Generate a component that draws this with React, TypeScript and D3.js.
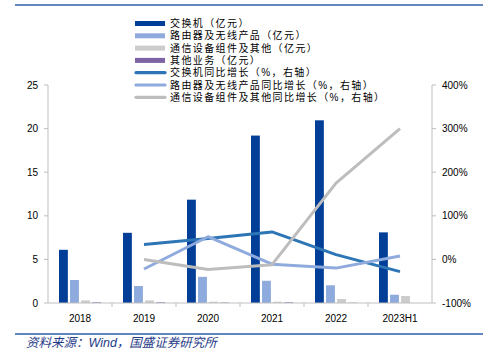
import React from "react";
import * as d3 from "d3";

const categories = ["2018", "2019", "2020", "2021", "2022", "2023H1"];
const switchRev = [6.1, 8.05, 11.85, 19.2, 20.95, 8.1];
const routerRev = [2.64, 1.95, 3.0, 2.55, 2.03, 0.95];
const commRev = [0.3, 0.3, 0.15, 0.15, 0.46, 0.8];
const otherRev = [0.08, 0.08, 0.05, 0.08, 0.03, 0];
const switchYoY = [null, 34, 48, 63, 11, -28];
const routerYoY = [null, -22, 52, -11, -20, 8];
const commYoY = [null, 0, -23, -12, 175, 300];
const leftTicks = [0, 5, 10, 15, 20, 25];
const rightTicks = [-100, 0, 100, 200, 300, 400];

const barNames = ["交换机（亿元）", "路由器及无线产品（亿元）", "通信设备组件及其他（亿元）", "其他业务（亿元）"];
const lineNames = ["交换机同比增长（%，右轴）", "路由器及无线产品同比增长（%，右轴）", "通信设备组件及其他同比增长（%，右轴）"];

const barColors = ["#003E97", "#8FAADC", "#CCCCCC", "#7E62A6"];
const lineColors = ["#2E75B6", "#8FAADC", "#BDBDBD"];

export default function App() {
  const W = 489, H = 357;
  const x0 = 48, x1 = 432, yTop = 85, yBot = 303;
  const x = d3.scaleBand().domain(categories).range([x0, x1]);
  const inner = d3.scaleBand().domain(["0", "1", "2", "3"]).range([11, 53]).paddingInner(0.2);
  const yL = d3.scaleLinear().domain([0, 25]).range([yBot, yTop]);
  const yR = d3.scaleLinear().domain([-100, 400]).range([yBot, yTop]);
  const barSeries = [switchRev, routerRev, commRev, otherRev];
  const lineSeries = [switchYoY, routerYoY, commYoY];
  const line = d3
    .line<[string, number | null]>()
    .defined((d) => d[1] !== null)
    .x((d) => (x(d[0]) as number) + x.bandwidth() / 2)
    .y((d) => yR(d[1] as number));
  const axisColor = "#BFBFBF";
  const font = "'Liberation Sans', 'Noto Sans CJK SC', sans-serif";
  const legendX = 135, legendY = 23.5, legendStep = 12.3;

  return (
    <svg width={W} height={H} style={{ position: "absolute", left: 0, top: 0 }} fontFamily={font}>
      <rect width={W} height={H} fill="#fff" />
      <line x1={15} x2={483} y1={5} y2={5} stroke="#2E5FA8" strokeWidth={1.5} />
      {/* legend */}
      {barNames.map((n, i) => (
        <g key={n}>
          <rect x={legendX} y={legendY + i * legendStep - 2.5} width={30} height={5} fill={barColors[i]} />
          <text x={170} y={legendY + i * legendStep} dy="0.35em" fontSize={10} letterSpacing={1.4} fill="#000">{n}</text>
        </g>
      ))}
      {lineNames.map((n, j) => {
        const i = j + 4;
        return (
          <g key={n}>
            <line x1={legendX + 1} x2={legendX + 30} y1={legendY + i * legendStep} y2={legendY + i * legendStep} stroke={lineColors[j]} strokeWidth={3.2} strokeLinecap="round" />
            <text x={170} y={legendY + i * legendStep} dy="0.35em" fontSize={10} letterSpacing={1.4} fill="#000">{n}</text>
          </g>
        );
      })}
      {/* bars */}
      {barSeries.map((s, si) =>
        s.map((v, ci) => (
          <rect
            key={si + "-" + ci}
            x={(x(categories[ci]) as number) + (inner(String(si)) as number)}
            y={yL(v)}
            width={inner.bandwidth()}
            height={yBot - yL(v)}
            fill={barColors[si]}
          />
        ))
      )}
      {/* axes */}
      <line x1={x0} x2={x0} y1={yTop} y2={yBot} stroke={axisColor} />
      <line x1={x1} x2={x1} y1={yTop} y2={yBot} stroke={axisColor} />
      <line x1={x0} x2={x1} y1={yBot} y2={yBot} stroke={axisColor} />
      {leftTicks.map((t) => (
        <g key={"l" + t}>
          <line x1={x0 - 4} x2={x0} y1={yL(t)} y2={yL(t)} stroke={axisColor} />
          <text x={38} y={yL(t)} dy="0.35em" textAnchor="end" fontSize={10} fill="#000">{t}</text>
        </g>
      ))}
      {rightTicks.map((t) => (
        <g key={"r" + t}>
          <line x1={x1} x2={x1 + 4} y1={yR(t)} y2={yR(t)} stroke={axisColor} />
          <text x={442} y={yR(t)} dy="0.35em" textAnchor="start" fontSize={10} fill="#000">{t + "%"}</text>
        </g>
      ))}
      {categories.map((c, i) => (
        <g key={c}>
          {i > 0 && <line x1={x(c) as number} x2={x(c) as number} y1={yBot} y2={yBot + 4} stroke={axisColor} />}
          <text x={(x(c) as number) + x.bandwidth() / 2} y={318} dy="0.35em" textAnchor="middle" fontSize={10} fill="#000">{c}</text>
        </g>
      ))}
      {/* lines */}
      {lineSeries.map((s, si) => (
        <path
          key={"line" + si}
          d={line(categories.map((c, i) => [c, s[i]] as [string, number | null])) || ""}
          fill="none"
          stroke={lineColors[si]}
          strokeWidth={3}
          strokeLinejoin="round"
        />
      ))}
      <line x1={15} x2={483} y1={334} y2={334} stroke="#2E5FA8" strokeWidth={1.5} />
      <text x={26} y={346} dy="0.1em" fontSize={12.5} fill="#1F3C88" fontStyle="italic">资料来源：Wind，国盛证券研究所</text>
    </svg>
  );
}
